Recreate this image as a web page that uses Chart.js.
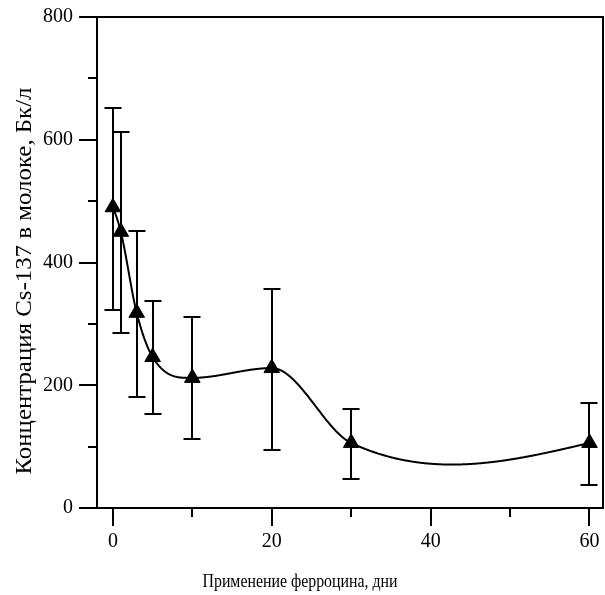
<!DOCTYPE html>
<html>
<head>
<meta charset="utf-8">
<script src="https://cdn.jsdelivr.net/npm/chart.js@4.4.0/dist/chart.umd.min.js"></script>
<style>
    html, body { margin: 0; padding: 0; background: #fff; }
    #wrap { width: 605px; height: 595px; }
</style>
</head>
<body>
<div id="wrap"><canvas id="chart"></canvas></div>
<script>
const days = [0, 1, 3, 5, 10, 20, 30, 60];
const concentration = [490, 450, 318, 246, 212, 228, 106, 106];
const errorUpper = [652, 613, 451, 337, 311, 357, 161, 171];
const errorLower = [323, 285, 181, 153, 112, 95, 47, 37];
const xTickValues = [0, 10, 20, 30, 40, 50, 60];
const xTickLabels = ['0', '', '20', '', '40', '', '60'];
const yTickValues = [0, 100, 200, 300, 400, 500, 600, 700, 800];
const yTickLabels = ['0', '', '200', '', '400', '', '600', '', '800'];
const xTitle = 'Применение ферроцина, дни';
const yTitle = 'Концентрация Cs-137 в молоке, Бк/л';

const FONT = '"Liberation Serif", "Times New Roman", serif';

// cubic Hermite curve: slope 0 at local extrema, mean of neighbouring secants elsewhere,
// natural condition at both ends
function smoothCurve(xs, ys) {
    const n = xs.length;
    const sec = [];
    for (let i = 0; i < n - 1; i++) sec.push((ys[i + 1] - ys[i]) / (xs[i + 1] - xs[i]));
    const m = new Array(n).fill(0);
    for (let i = 1; i < n - 1; i++) {
        m[i] = sec[i - 1] * sec[i] < 0 ? 0 : (sec[i - 1] + sec[i]) / 2;
    }
    m[0] = (3 * sec[0] - m[1]) / 2;
    m[n - 1] = (3 * sec[n - 2] - m[n - 2]) / 2;
    return (x) => {
        let i = 0;
        while (i < n - 2 && x > xs[i + 1]) i++;
        const h = xs[i + 1] - xs[i];
        const t = (x - xs[i]) / h, t2 = t * t, t3 = t2 * t;
        return (2 * t3 - 3 * t2 + 1) * ys[i] + (t3 - 2 * t2 + t) * h * m[i]
            + (-2 * t3 + 3 * t2) * ys[i + 1] + (t3 - t2) * h * m[i + 1];
    };
}

function noPadding(s) {
    s.paddingTop = 0;
    s.paddingBottom = 0;
    s.paddingLeft = 0;
    s.paddingRight = 0;
}

const framePlugin = {
    id: 'frame',
    beforeDatasetsDraw(chart) {
        const { ctx, scales } = chart;
        const x = scales.x, y = scales.y;
        ctx.save();
        ctx.strokeStyle = '#000';
        ctx.lineWidth = 2;
        // smooth curve
        const f = smoothCurve(days, concentration);
        ctx.beginPath();
        const x0 = days[0], x1 = days[days.length - 1];
        for (let k = 0; k <= 600; k++) {
            const v = x0 + (x1 - x0) * k / 600;
            const px = x.getPixelForValue(v), py = y.getPixelForValue(f(v));
            if (k === 0) ctx.moveTo(px, py); else ctx.lineTo(px, py);
        }
        ctx.stroke();
        // error bars
        days.forEach((d, i) => {
            const px = Math.round(x.getPixelForValue(d));
            const top = Math.round(y.getPixelForValue(errorUpper[i]));
            const bot = Math.round(y.getPixelForValue(errorLower[i]));
            ctx.beginPath();
            ctx.moveTo(px, top); ctx.lineTo(px, bot);
            ctx.moveTo(px - 8.5, top); ctx.lineTo(px + 8.5, top);
            ctx.moveTo(px - 8.5, bot); ctx.lineTo(px + 8.5, bot);
            ctx.stroke();
        });
        ctx.restore();
    },
    afterDraw(chart) {
        const { ctx, chartArea, scales } = chart;
        ctx.save();
        ctx.strokeStyle = '#000';
        ctx.lineWidth = 2;
        ctx.strokeRect(chartArea.left, chartArea.top, chartArea.right - chartArea.left, chartArea.bottom - chartArea.top);
        // ticks: long for labelled, short otherwise
        ctx.beginPath();
        xTickValues.forEach((v, i) => {
            const px = Math.round(scales.x.getPixelForValue(v));
            const len = xTickLabels[i] ? 18 : 9;
            ctx.moveTo(px, chartArea.bottom); ctx.lineTo(px, chartArea.bottom + len);
        });
        yTickValues.forEach((v, i) => {
            const py = Math.round(scales.y.getPixelForValue(v));
            const len = yTickLabels[i] ? 18 : 9;
            ctx.moveTo(chartArea.left, py); ctx.lineTo(chartArea.left - len, py);
        });
        ctx.stroke();
        // axis titles
        ctx.fillStyle = '#000';
        ctx.textAlign = 'center';
        ctx.textBaseline = 'alphabetic';
        ctx.font = '18px ' + FONT;
        ctx.save();
        ctx.translate(300, 587);
        ctx.scale(195 / ctx.measureText(xTitle).width, 1);
        ctx.fillText(xTitle, 0, 0);
        ctx.restore();
        ctx.font = '23px ' + FONT;
        ctx.translate(31, 281);
        ctx.rotate(-Math.PI / 2);
        ctx.scale(387 / ctx.measureText(yTitle).width, 1);
        ctx.fillText(yTitle, 0, 0);
        ctx.restore();
    }
};

new Chart(document.getElementById('chart'), {
    type: 'line',
    data: {
        labels: days,
        datasets: [{
            data: days.map((d, i) => ({ x: d, y: concentration[i] })),
            showLine: false,
            pointStyle: 'triangle',
            pointRadius: 9,
            pointHoverRadius: 9,
            pointBackgroundColor: '#000',
            pointBorderColor: '#000',
            pointBorderWidth: 1,
        }]
    },
    options: {
        responsive: true,
        maintainAspectRatio: false,
        animation: false,
        events: [],
        layout: { autoPadding: false, padding: { top: 17, right: 2, left: 0, bottom: 0 } },
        plugins: {
            legend: { display: false },
            tooltip: { enabled: false },
        },
        scales: {
            x: {
                type: 'linear',
                min: -2,
                max: 61.7,
                afterBuildTicks: (s) => { s.ticks = xTickValues.map(v => ({ value: v })); },
                afterFit: (s) => { s.height = 87; noPadding(s); },
                grid: { display: false, drawTicks: false },
                border: { display: false },
                ticks: {
                    padding: 22,
                    color: '#000',
                    font: { family: FONT, size: 20 },
                    maxRotation: 0,
                    callback: (v, i) => xTickLabels[i],
                },
            },
            y: {
                type: 'linear',
                min: 0,
                max: 800,
                afterBuildTicks: (s) => { s.ticks = yTickValues.map(v => ({ value: v })); },
                afterFit: (s) => { s.width = 97; noPadding(s); },
                grid: { display: false, drawTicks: false },
                border: { display: false },
                ticks: {
                    padding: 24,
                    color: '#000',
                    font: { family: FONT, size: 20 },
                    callback: (v, i) => yTickLabels[i],
                },
            },
        },
    },
    plugins: [framePlugin],
});
</script>
</body>
</html>
